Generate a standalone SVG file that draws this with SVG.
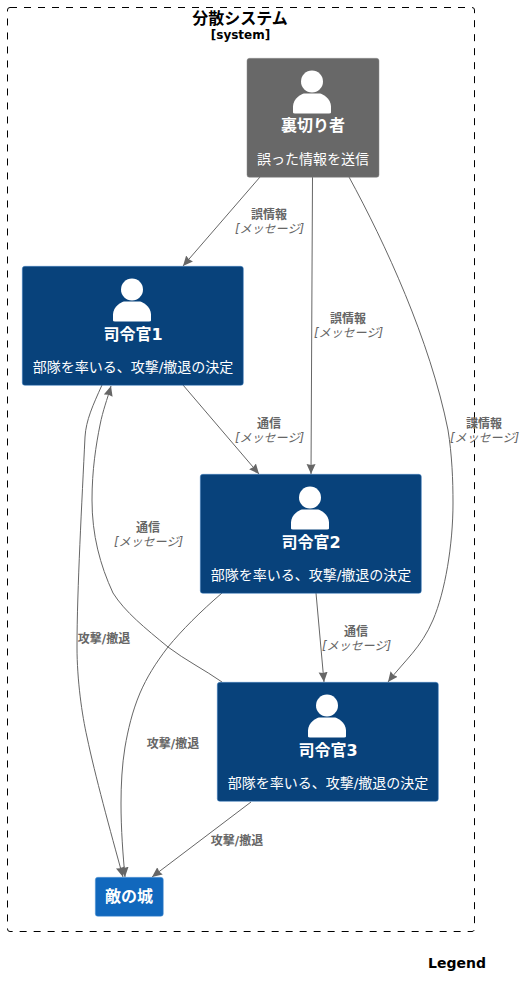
<svg xmlns="http://www.w3.org/2000/svg" width="525" height="997" viewBox="0 0 525 997">
<style>
text{font-family:"DejaVu Sans","Noto Sans CJK JP",sans-serif;text-anchor:middle}
.t{font-size:16px;font-weight:700;fill:#000}
.s{font-size:12px;font-weight:700;fill:#000}
.n{font-size:16px;font-weight:700;fill:#fff}
.d{font-size:14px;fill:#fff}
.l{font-size:12px;font-weight:700;fill:#666}
.i{font-size:12px;font-style:italic;fill:#666}
.c{fill:none;stroke:#666;stroke-width:1;marker-end:url(#a)}
.p{fill:#08427b;stroke:#3c7fc0;stroke-width:.5}
</style>
<defs>
<marker id="a" markerUnits="userSpaceOnUse" markerWidth="12" markerHeight="12" refX="10" refY="5" orient="auto"><path d="M0 .5L10 5L0 9.500L1 5z" fill="#666"/></marker>
<g id="person"><circle cx="0" cy="0" r="11" fill="#fff"/><path d="M-19 31V25C-19 17-10 12-8 12H8C10 12 19 17 19 25V31Q19 32 17 32H-17Q-19 32-19 31z" fill="#fff"/></g>
</defs>
<g id="boundary"><rect x="7.500" y="7.500" width="467" height="924" rx="2.500" fill="none" stroke="#000" stroke-dasharray="7 7"/><text class="t" x="240" y="24">分散システム</text><text class="s" x="240.500" y="39">[system]</text></g>
<g id="connectors">
<path class="c" d="M260 177L183 266"/>
<path class="c" d="M312.500 177L311 474"/>
<path class="c" d="M349 177C385 243 430 340 448 430C452 455 453 480 453 503C453 545 445 592 433 620C421 648 405 660 388 682"/>
<path class="c" d="M183 385L259 474"/>
<path class="c" d="M316 593L324 682"/>
<path class="c" d="M222 682C205 670 185 660 168 647C145 628 125 612 113 593C100 565 92 535 92 500C92 470 96 445 100 425C103 410 107 400 111 386"/>
<path class="c" d="M102 385C93 405 86 420 85 437C82 500 77 590 77 647C77 680 82 715 87 737C95 775 110 830 123 877"/>
<path class="c" d="M222 593C200 612 182 630 168 647C155 664 147 677 140 693C132 712 128 730 125 747C122 765 121 785 121 803C121 830 123 855 125 877"/>
<path class="c" d="M251 802L152 877"/>
</g>
<g id="connector-labels">
<text class="l" x="269" y="219">誤情報</text><text class="i" x="269.500" y="233">[メッセージ]</text>
<text class="l" x="348" y="323">誤情報</text><text class="i" x="348.500" y="337">[メッセージ]</text>
<text class="l" x="484" y="428">諜情報</text><text class="i" x="484.500" y="442">[メッセージ]</text>
<text class="l" x="269" y="428">通信</text><text class="i" x="269.500" y="442">[メッセージ]</text>
<text class="l" x="148" y="532">通信</text><text class="i" x="148.500" y="546">[メッセージ]</text>
<text class="l" x="356" y="636">通信</text><text class="i" x="356.500" y="650">[メッセージ]</text>
<text class="l" x="104" y="643">攻撃/撤退</text>
<text class="l" x="173" y="747.500">攻撃/撤退</text>
<text class="l" x="237" y="844.500">攻撃/撤退</text>
</g>
<g id="traitor"><rect x="247" y="58.300" width="132" height="119" rx="2.500" fill="#686868" stroke="#8a8a8a" stroke-width=".5"/><use href="#person" x="312" y="81.500"/><text class="n" x="313" y="131">裏切り者</text><text class="d" x="313" y="164">誤った情報を送信</text></g>
<g id="commander1"><rect class="p" x="22.300" y="266.300" width="221" height="119" rx="2.500"/><use href="#person" x="132" y="289.500"/><text class="n" x="133" y="339.500">司令官1</text><text class="d" x="133" y="372">部隊を率いる、攻撃/撤退の決定</text></g>
<g id="commander2"><rect class="p" x="200.300" y="474.300" width="221" height="119" rx="2.500"/><use href="#person" x="310" y="497.500"/><text class="n" x="311" y="547.500">司令官2</text><text class="d" x="311" y="580">部隊を率いる、攻撃/撤退の決定</text></g>
<g id="commander3"><rect class="p" x="217.300" y="682.300" width="221" height="119" rx="2.500"/><use href="#person" x="327" y="705.500"/><text class="n" x="328" y="755.500">司令官3</text><text class="d" x="328" y="788">部隊を率いる、攻撃/撤退の決定</text></g>
<g id="castle"><rect x="95.300" y="877.300" width="68" height="39" rx="2.500" fill="#1168bd" stroke="#5a9bd8" stroke-width=".5"/><text class="n" x="129" y="902">敵の城</text></g>
<text id="legend" x="457" y="968" style="font-size:14px;font-weight:700;fill:#000">Legend</text>
</svg>
